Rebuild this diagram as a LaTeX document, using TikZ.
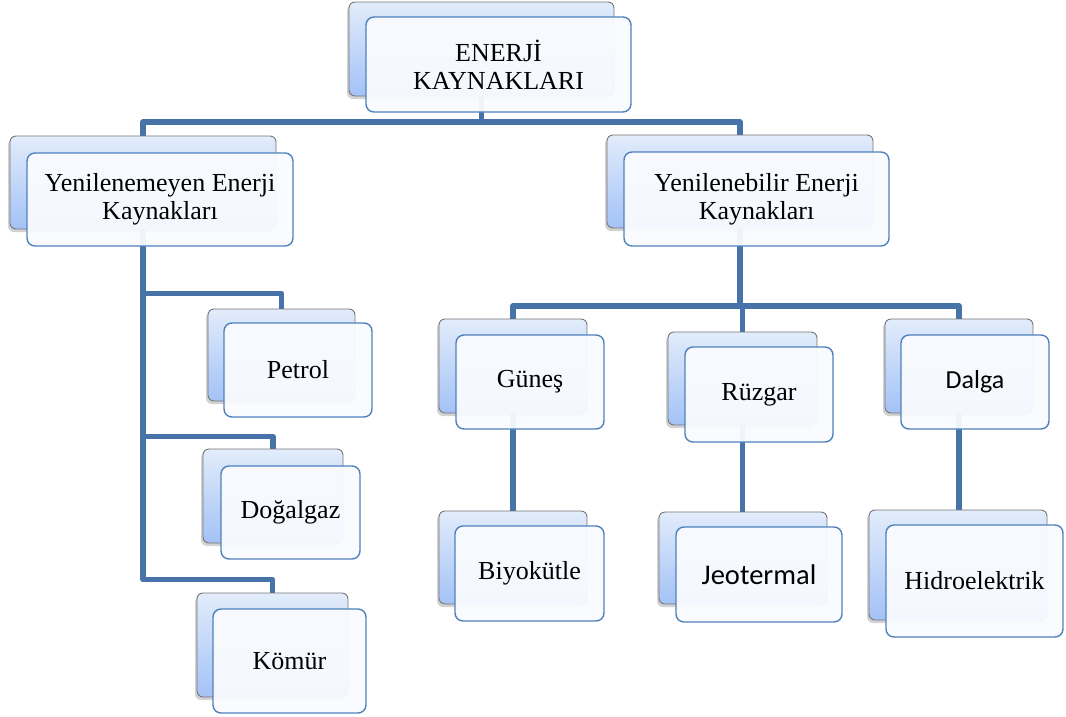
\documentclass[tikz,border=0pt]{standalone}
\usepackage{fontspec}
\setmainfont{Liberation Serif}
\newfontfamily\calib{Carlito}
\usetikzlibrary{shadows}
\pgfdeclarelayer{bg}
\pgfsetlayers{bg,main}
\definecolor{conncol}{RGB}{72,114,170}
\definecolor{backtop}{RGB}{226,236,251}
\definecolor{backbot}{RGB}{163,194,246}
\definecolor{backedge}{RGB}{118,118,118}
\definecolor{frontfill}{RGB}{249,251,255}
\definecolor{frontedge}{RGB}{79,129,189}
\tikzset{
  backbox/.style={rectangle, rounded corners=6pt, draw=backedge, line width=0.9pt,
    top color=backtop, bottom color=backbot, inner sep=0pt,
    drop shadow={shadow xshift=-2pt, shadow yshift=-3pt, opacity=0.35}},
  frontbox/.style={rectangle, rounded corners=8pt, draw=frontedge, line width=1.4pt,
    fill=frontfill, fill opacity=0.95, text opacity=1, inner sep=0pt, align=center,
    font=\fontsize{26}{28}\selectfont},
  conn/.style={draw=conncol, line width=5.5pt, line join=round}
}
\begin{document}
\begin{tikzpicture}[x=1pt,y=-1pt]
\useasboundingbox (0,0) rectangle (1066,716);

% root
\node[backbox, minimum width=265pt, minimum height=94pt] (rootb) at (481.5,49) {};
\node[frontbox, minimum width=265pt, minimum height=95pt] (root) at (498.5,64.5) {ENERJİ\\KAYNAKLARI};

% level 1
\node[backbox, minimum width=266pt, minimum height=93pt] (yneb) at (143,182.5) {};
\node[frontbox, minimum width=266pt, minimum height=93pt] (yne) at (160,199.5) {Yenilenemeyen Enerji\\Kaynakları};
\node[backbox, minimum width=266pt, minimum height=93pt] (ybb) at (740,181.5) {};
\node[frontbox, minimum width=265pt, minimum height=94pt] (yb) at (756.5,199) {Yenilenebilir Enerji\\Kaynakları};

% left children
\node[backbox, minimum width=147pt, minimum height=92pt] (petb) at (281.5,355) {};
\node[frontbox, minimum width=148pt, minimum height=94pt] (pet) at (298,370) {Petrol};
\node[backbox, minimum width=140pt, minimum height=94pt] (dogb) at (273,496) {};
\node[frontbox, minimum width=139pt, minimum height=93pt] (dog) at (290.5,512.5) {Doğalgaz};
\node[backbox, minimum width=151pt, minimum height=104pt] (komb) at (272.5,645) {};
\node[frontbox, minimum width=153pt, minimum height=104pt] (kom) at (289.5,661) {Kömür};

% right children
\node[backbox, minimum width=148pt, minimum height=94pt] (gunb) at (513,366) {};
\node[frontbox, minimum width=148pt, minimum height=94pt] (gun) at (530,382) {Güneş};
\node[backbox, minimum width=148pt, minimum height=93pt] (biyb) at (513,557.5) {};
\node[frontbox, minimum width=149pt, minimum height=95pt] (biy) at (529.5,573.5) {Biyokütle};
\node[backbox, minimum width=149pt, minimum height=93pt] (ruzb) at (742.5,378.5) {};
\node[frontbox, minimum width=148pt, minimum height=95pt] (ruz) at (759,394.5) {Rüzgar};
\node[backbox, minimum width=168pt, minimum height=92pt] (jeob) at (743,558) {};
\node[frontbox, minimum width=166pt, minimum height=95pt] (jeo) at (759,574.5) {\calib\fontsize{28.5}{30}\selectfont Jeotermal};
\node[backbox, minimum width=148pt, minimum height=94pt] (dalb) at (959,366) {};
\node[frontbox, minimum width=148pt, minimum height=94pt] (dal) at (975,382) {\calib\fontsize{26}{28}\selectfont Dalga};
\node[backbox, minimum width=178pt, minimum height=110pt] (hidb) at (958,565) {};
\node[frontbox, minimum width=177pt, minimum height=112pt] (hid) at (974.5,581) {Hidroelektrik};

\coordinate (bar1) at (0,122);
\coordinate (bar2) at (0,306);

\begin{pgfonlayer}{bg}
\fill[white] (0,0) rectangle (1066,716);
\draw[conn] (rootb.south) -- (rootb.south |- bar1);
\draw[conn] (yneb.north) -- (yneb.north |- bar1) -- (ybb.north |- bar1) -- (ybb.north);
\draw[conn] (yneb.south) |- ([yshift=15pt]petb.north) -- (petb.north);
\draw[conn] (yneb.south) |- ([yshift=12pt]dogb.north) -- (dogb.north);
\draw[conn] (yneb.south) |- ([yshift=13pt]komb.north) -- (komb.north);
\draw[conn] (ybb.south) -- (ybb.south |- bar2);
\draw[conn] (gunb.north) -- (gunb.north |- bar2) -- (dalb.north |- bar2) -- (dalb.north);
\draw[conn] (ruzb.north) -- (ruzb.north |- bar2);
\draw[conn] (gunb.south) -- (biyb.north);
\draw[conn] (ruzb.south) -- (ruzb.south |- jeob.north);
\draw[conn] (dalb.south) -- (dalb.south |- hidb.north);
\end{pgfonlayer}
\end{tikzpicture}
\end{document}
